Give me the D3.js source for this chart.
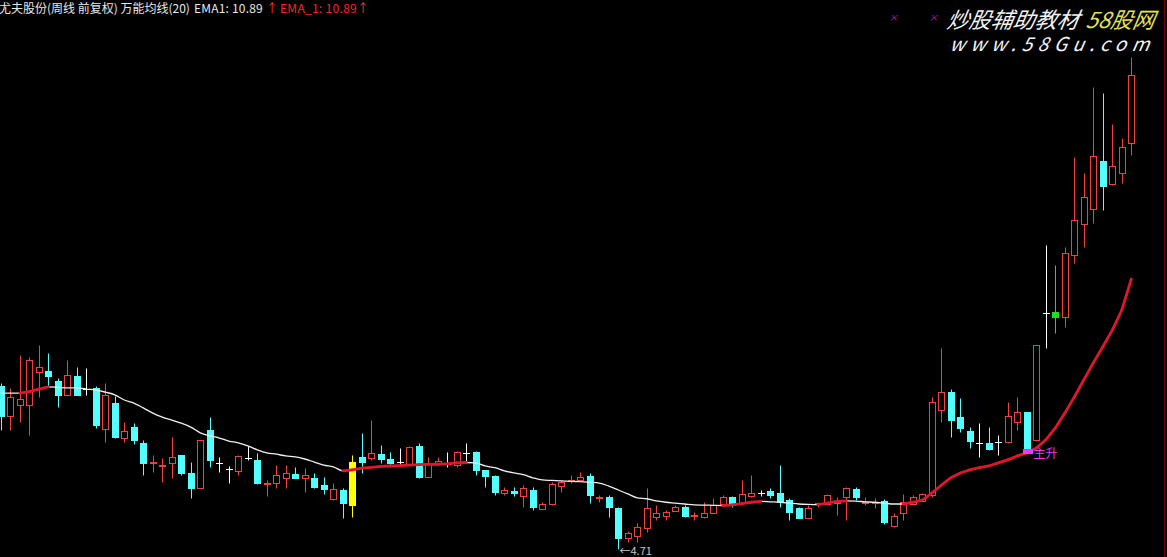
<!DOCTYPE html>
<meta charset="utf-8">
<style>
body { margin: 0; background: #000; }
svg { display: block; background: #000; }
text { font-family: "Noto Sans CJK SC", "DejaVu Sans", sans-serif; }
</style>
<svg width="1167" height="557"></svg>
<script src="https://d3js.org/d3.v7.min.js"></script>
<script>

// weekly bars
var opens = [
  8.44, 7.75, 8.01, 8.01, 8.76, 8.78, 8.56, 8.24, 8.67, 8.37,
  8.40, 7.46, 8.05, 7.25, 7.50, 7.14, 6.68, 6.63, 6.68, 6.86,
  6.45, 6.11, 7.43, 6.68, 6.54, 6.50, 6.79, 6.75, 6.20, 6.22,
  6.34, 6.43, 6.34, 6.34, 6.17, 5.85, 6.06, 5.72, 6.82, 6.79,
  6.88, 6.77, 6.70, 6.66, 7.07, 6.36, 6.66, 6.66, 6.63, 6.91,
  6.93, 6.52, 6.38, 5.99, 6.04, 5.92, 6.06, 5.62, 5.74, 6.15,
  6.27, 6.29, 6.38, 5.88, 5.90, 5.65, 4.96, 5.01, 5.19, 5.44,
  5.47, 5.58, 5.67, 5.47, 5.44, 5.53, 5.74, 5.90, 5.76, 5.92,
  5.99, 6.04, 5.99, 5.83, 5.65, 5.42, 5.76, 5.74, 5.78, 5.90,
  6.08, 5.78, 5.78, 5.81, 5.24, 5.53, 5.74, 5.81, 5.95, 7.89,
  8.30, 7.73, 7.41, 7.14, 7.14, 7.16, 7.16, 7.62, 7.85, 7.21,
  10.11, 10.02, 10.02, 11.44, 12.15, 12.49, 13.59, 13.06, 13.31, 14.00
];
var highs = [
  8.51, 8.40, 9.15, 9.10, 9.38, 9.20, 8.62, 9.04, 8.87, 8.85,
  8.44, 8.51, 8.21, 7.62, 7.59, 7.21, 6.86, 6.79, 7.27, 6.86,
  6.70, 7.21, 7.73, 6.82, 6.61, 6.86, 7.07, 6.91, 6.29, 6.63,
  6.63, 6.59, 6.56, 6.45, 6.36, 6.22, 6.11, 6.86, 7.37, 7.66,
  7.09, 6.93, 7.02, 7.07, 7.14, 6.82, 6.82, 6.93, 6.95, 7.14,
  6.95, 6.52, 6.41, 6.13, 6.13, 6.17, 6.13, 5.78, 6.24, 6.29,
  6.41, 6.47, 6.45, 5.95, 5.95, 5.67, 5.12, 5.31, 6.11, 5.72,
  5.60, 5.72, 5.72, 5.56, 5.78, 5.88, 5.95, 5.92, 6.29, 6.41,
  6.06, 6.11, 6.63, 5.88, 5.67, 5.72, 5.78, 5.97, 5.90, 6.13,
  6.13, 5.90, 5.88, 5.86, 5.53, 5.97, 5.95, 5.99, 8.19, 9.31,
  8.37, 8.17, 7.50, 7.59, 7.50, 7.32, 8.07, 8.19, 7.85, 9.38,
  11.67, 11.21, 11.62, 13.68, 13.31, 15.28, 15.14, 14.44, 14.11, 15.97
];
var lows = [
  7.43, 7.43, 7.62, 7.32, 8.19, 8.42, 7.96, 8.24, 8.24, 8.24,
  7.48, 7.16, 7.25, 7.16, 7.11, 6.41, 6.47, 6.24, 6.34, 6.41,
  5.88, 6.11, 6.59, 6.47, 6.22, 6.41, 6.75, 6.20, 5.92, 6.11,
  6.11, 6.34, 6.02, 6.11, 5.97, 5.83, 5.42, 5.44, 6.45, 6.75,
  6.68, 6.63, 6.63, 6.63, 6.34, 6.36, 6.63, 6.59, 6.59, 6.68,
  6.41, 6.13, 5.95, 5.95, 5.92, 5.67, 5.60, 5.62, 5.72, 6.02,
  6.22, 6.29, 5.76, 5.78, 5.44, 4.71, 4.87, 4.87, 5.10, 5.38,
  5.38, 5.58, 5.44, 5.38, 5.42, 5.53, 5.72, 5.67, 5.72, 5.90,
  5.92, 5.88, 5.67, 5.38, 5.42, 5.42, 5.67, 5.72, 5.49, 5.38,
  5.83, 5.72, 5.65, 5.28, 5.22, 5.38, 5.74, 5.81, 5.90, 7.62,
  7.27, 7.39, 7.02, 6.82, 6.98, 6.86, 7.14, 7.43, 6.98, 7.18,
  9.31, 9.65, 9.79, 11.25, 11.62, 12.17, 12.47, 13.04, 13.09, 13.73
];
var closes = [
  7.75, 8.19, 8.14, 9.04, 8.87, 8.67, 8.24, 8.69, 8.24, 8.37,
  7.55, 8.24, 7.27, 7.41, 7.21, 6.68, 6.69, 6.64, 6.82, 6.45,
  6.11, 7.21, 6.75, 6.68, 6.54, 6.84, 6.79, 6.22, 6.21, 6.41,
  6.45, 6.34, 6.41, 6.13, 6.08, 6.08, 5.76, 6.70, 6.70, 6.91,
  6.77, 6.68, 6.70, 7.05, 6.36, 6.68, 6.72, 6.66, 6.93, 6.91,
  6.52, 6.38, 6.02, 6.06, 5.99, 6.11, 5.67, 5.74, 6.20, 6.24,
  6.28, 6.36, 5.95, 5.89, 5.67, 4.96, 5.07, 5.21, 5.65, 5.53,
  5.56, 5.67, 5.47, 5.48, 5.53, 5.72, 5.90, 5.74, 5.97, 5.99,
  5.99, 5.95, 5.78, 5.56, 5.42, 5.65, 5.77, 5.95, 5.79, 6.11,
  5.90, 5.79, 5.79, 5.33, 5.47, 5.78, 5.90, 5.97, 8.07, 8.30,
  7.66, 7.48, 7.18, 7.14, 7.00, 7.16, 7.75, 7.85, 7.02, 9.38,
  10.11, 10.13, 11.48, 12.24, 12.76, 13.70, 13.02, 13.47, 13.91, 15.56
];

// 万能均线(20) as drawn
var ema1 = [
  8.28, 8.28, 8.28, 8.31, 8.37, 8.42, 8.41, 8.40, 8.40, 8.37,
  8.35, 8.30, 8.24, 8.12, 8.05, 7.94, 7.82, 7.73, 7.66, 7.59,
  7.50, 7.37, 7.30, 7.25, 7.18, 7.14, 7.07, 6.98, 6.91, 6.88,
  6.84, 6.82, 6.77, 6.70, 6.63, 6.59, 6.50, 6.52, 6.56, 6.58,
  6.60, 6.61, 6.62, 6.63, 6.64, 6.645, 6.65, 6.66, 6.68, 6.69,
  6.68, 6.61, 6.57, 6.50, 6.45, 6.41, 6.34, 6.29, 6.28, 6.27,
  6.26, 6.25, 6.24, 6.22, 6.15, 6.06, 5.97, 5.88, 5.86, 5.81,
  5.78, 5.76, 5.74, 5.72, 5.715, 5.71, 5.705, 5.72, 5.75, 5.78,
  5.80, 5.79, 5.78, 5.76, 5.74, 5.73, 5.725, 5.76, 5.80, 5.81,
  5.805, 5.79, 5.78, 5.76, 5.74, 5.74, 5.78, 5.83, 5.99, 6.17,
  6.34, 6.45, 6.52, 6.57, 6.61, 6.68, 6.75, 6.84, 6.91, 7.02,
  7.21, 7.48, 7.82, 8.19, 8.58, 8.97, 9.34, 9.72, 10.18, 10.89
];

var yellowBar = 37;   // highlighted bar
var greenBar = 111;
var signalBar = 108;  // 主升 mark
var lowBar = 65, lowLabel = "4.71";

var svg = d3.select("svg");

var x = d3.scaleLinear().domain([0, 119]).range([0.8, 1131.3]);
var y = d3.scaleLinear().domain([4.71, 10.89]).range([549, 279]);

var cx = function(i) { return Math.round(x(i)) + 0.5; };
var py = function(v) { return Math.round(y(v)) + 0.5; };

var upColor = "#f04040",
    downColor = "#54ffff";

// right frame line
svg.append("line")
  .attr("x1", 1164.5).attr("x2", 1164.5)
  .attr("y1", 0).attr("y2", 557)
  .attr("stroke", "#6a0000");

var bars = d3.range(opens.length).map(function(i) {
  return { i: i, o: opens[i], h: highs[i], l: lows[i], c: closes[i] };
});

function barColor(d) {
  if (d.i === yellowBar) return "#ffff00";
  if (d.i === greenBar) return "#22dd22";
  if (d.c > d.o) return upColor;
  if (d.c < d.o) return downColor;
  return "#ffffff";
}

var candles = svg.append("g").attr("class", "candles");

candles.selectAll("line.wick")
  .data(bars)
  .enter()
  .append("line")
  .attr("class", "wick")
  .attr("x1", function(d) { return cx(d.i); })
  .attr("x2", function(d) { return cx(d.i); })
  .attr("y1", function(d) { return py(d.h); })
  .attr("y2", function(d) { return py(d.l); })
  .attr("stroke", barColor);

// red bodies: hollow, black inside so the wick does not show through
candles.selectAll("rect.up")
  .data(bars.filter(function(d) { return d.c > d.o && d.i !== yellowBar && d.i !== greenBar; }))
  .enter()
  .append("rect")
  .attr("class", "up")
  .attr("x", function(d) { return cx(d.i) - 3; })
  .attr("width", 6)
  .attr("y", function(d) { return py(d.c); })
  .attr("height", function(d) { return Math.max(1, py(d.o) - py(d.c)); })
  .attr("fill", "#000")
  .attr("stroke", upColor);

candles.selectAll("rect.down")
  .data(bars.filter(function(d) { return d.c < d.o || d.i === yellowBar || d.i === greenBar; }))
  .enter()
  .append("rect")
  .attr("class", "down")
  .attr("x", function(d) { return cx(d.i) - 3.5; })
  .attr("width", 7)
  .attr("y", function(d) { return py(Math.max(d.o, d.c)) - 0.5; })
  .attr("height", function(d) { return Math.max(1, py(Math.min(d.o, d.c)) - py(Math.max(d.o, d.c)) + 1); })
  .attr("fill", barColor);

candles.selectAll("line.doji")
  .data(bars.filter(function(d) { return d.c === d.o; }))
  .enter()
  .append("line")
  .attr("class", "doji")
  .attr("x1", function(d) { return cx(d.i) - 3.5; })
  .attr("x2", function(d) { return cx(d.i) + 3.5; })
  .attr("y1", function(d) { return py(d.o); })
  .attr("y2", function(d) { return py(d.o); })
  .attr("stroke", "#ffffff");

// EMA1 white, full length
var line = d3.line()
  .x(function(d, i) { return x(i); })
  .y(function(d) { return y(d); })
  .curve(d3.curveMonotoneX);

svg.append("path")
  .datum(ema1)
  .attr("d", line)
  .attr("fill", "none")
  .attr("stroke", "#f0f0f0")
  .attr("stroke-width", 1.3);

// EMA_1 red, only where it rises
var rising = d3.range(1, ema1.length).filter(function(i) { return ema1[i] > ema1[i - 1]; });
var seg = d3.line()
  .x(function(d) { return x(d); })
  .y(function(d) { return y(ema1[d]); });

svg.append("g").selectAll("path")
  .data(rising)
  .enter()
  .append("path")
  .attr("d", function(i) { return seg([i - 1, i]); })
  .attr("fill", "none")
  .attr("stroke", "#e0162c")
  .attr("stroke-width", 2.8)
  .attr("stroke-linecap", "round");

// lowest price note
svg.append("text")
  .attr("x", cx(lowBar) + 1)
  .attr("y", y(lows[lowBar]) + 6)
  .attr("fill", "#c8c8c8")
  .attr("font-size", 11)
  .text("\u2190" + lowLabel);

// signal mark
svg.append("rect")
  .attr("x", cx(signalBar) - 4.5)
  .attr("y", y(closes[signalBar]) + 1)
  .attr("width", 10)
  .attr("height", 5)
  .attr("fill", "#ff33ff");
svg.append("text")
  .attr("x", cx(signalBar) + 6)
  .attr("y", y(closes[signalBar]) + 10)
  .attr("fill", "#e040e0")
  .attr("font-size", 12)
  .text("主升");

// title
var title = svg.append("g").attr("font-size", 12);
title.append("text").attr("x", -1).attr("y", 13).attr("fill", "#e8e8e8")
  .text("尤夫股份(周线 前复权) 万能均线(20)");
title.append("text").attr("x", 194).attr("y", 13).attr("fill", "#e8e8e8")
  .attr("letter-spacing", 0.2).text("EMA1: 10.89");
title.append("text").attr("x", 266).attr("y", 13).attr("fill", "#ff3030").text("\u2191");
title.append("text").attr("x", 280).attr("y", 13).attr("fill", "#ff2020")
  .attr("letter-spacing", 0.3).text("EMA_1: 10.89");
title.append("text").attr("x", 357).attr("y", 13).attr("fill", "#ff3030").text("\u2191");

// watermark
var wm = svg.append("g").attr("font-style", "italic");
wm.append("text").attr("x", 889).attr("y", 21).attr("fill", "#c020c0").attr("font-size", 9).text("×");
wm.append("text").attr("x", 929).attr("y", 21).attr("fill", "#c020c0").attr("font-size", 9).text("×");
wm.append("text").attr("x", 947).attr("y", 28).attr("fill", "#f4f4f4").attr("font-size", 22)
  .attr("transform", "skewX(-10)").attr("dx", 4).text("炒股辅助教材");
wm.append("text").attr("x", 1086).attr("y", 28).attr("fill", "#e2e25a").attr("font-size", 22)
  .attr("transform", "skewX(-10)").attr("dx", 4).text("58股网");
wm.append("text").attr("x", 950).attr("y", 51).attr("fill", "#f4f4f4").attr("font-size", 19)
  .attr("font-family", "DejaVu Sans").attr("letter-spacing", 5.5)
  .attr("transform", "skewX(-10)").attr("dx", 8).text("www.58Gu.com");

</script>
